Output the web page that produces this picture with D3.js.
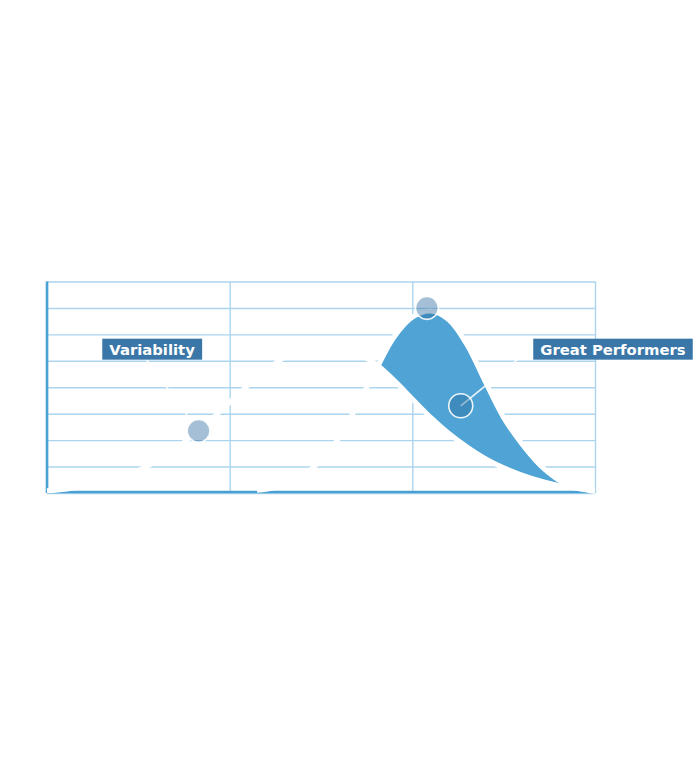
<!DOCTYPE html>
<html><head><meta charset="utf-8">
<script src="https://cdn.jsdelivr.net/npm/d3@7"></script>
<style>body{margin:0;background:#fff}</style>
</head><body>
<svg id="chart" width="700" height="765"></svg>
<script>
// ---- data ----
const xTicks = [0, 100, 200, 300];
const yTicks = [0, 10, 20, 30, 40, 50, 60, 70, 80];

// wide distribution ("Variability")
const wideX = [0,10,20,30,40,50,60,70,80,90,100,110,120,130,140,150,160,170,180,190,200,210,220,230,240,250,260,270,280,290,300];
const wideY = [0.85,1.45,2.4,3.8,5.8,8.5,12.1,16.6,21.9,27.9,34.3,40.7,46.5,51.3,54.6,56.1,55.3,52.6,48.8,42.6,35.6,28.6,22.5,17.4,13,9.5,6.8,4.6,2.9,1.8,1.2];

// narrow distribution ("Great Performers")
const narrowX = [115,120,130,140,150,160,170,180,190,200,210,220,230,240,250,260,270,280,290,300];
const narrowY = [1.0,1.4,3.2,6.5,12.5,21,33.5,46.5,59,66.5,68.8,65.5,56,42,28.5,18.5,10.5,5.0,1.9,0.6];

// markers
const circleX = [83, 208, 226.5];
const circleY = [23.5, 70, 33];

// labels
const labelText = ["Variability", "Great Performers"];
const labelX = [57.5, 309.8];
const labelY = [54.4, 54.4];

// connectors: [x1, y1, x2, y2] in data units
const connVariability = [54.2, 50.7, 83, 23.5];
const connGreat = [226.5, 33, 264.1, 54.1];

// ---- drawing ----
const svg = d3.select("#chart");
const x = d3.scaleLinear().domain([0, 300]).range([47, 595]);
const y = d3.scaleLinear().domain([0, 80]).range([493, 281.5]);

const gridColor = "#abd4ef";
const axisBlue = "#4aa0d3";
const fillBlue = "#4fa4d5";
const labelBlue = "#3a77a8";

// grid via axes
const gy = svg.append("g").attr("transform", `translate(${x(0)},0)`)
  .call(d3.axisLeft(y).tickValues(yTicks).tickSize(-(x(300) - x(0))).tickFormat(""));
gy.select(".domain").remove();
gy.selectAll(".tick line").attr("stroke", gridColor).attr("stroke-width", 1.4);

const gx = svg.append("g").attr("transform", `translate(0,${y(0)})`)
  .call(d3.axisBottom(x).tickValues(xTicks).tickSize(-(y(0) - y(80))).tickFormat(""));
gx.select(".domain").remove();
gx.selectAll(".tick line").attr("stroke", gridColor).attr("stroke-width", 1.4);

// main axes
svg.append("line").attr("x1", x(0)).attr("x2", x(0)).attr("y1", y(80)).attr("y2", y(0))
  .attr("stroke", axisBlue).attr("stroke-width", 2.6);
svg.append("line").attr("x1", x(0)).attr("x2", x(300)).attr("y1", y(0) - 1).attr("y2", y(0) - 1)
  .attr("stroke", axisBlue).attr("stroke-width", 2.4);

const wide = wideX.map((v, i) => [v, wideY[i]]);
const narrow = narrowX.map((v, i) => [v, narrowY[i]]);
const curve = d3.curveCatmullRom.alpha(0.5);

// clip: region above the wide curve
const defs = svg.append("defs");
defs.append("clipPath").attr("id", "aboveWide").append("path")
  .attr("d", d3.area().x(d => x(d[0])).y0(y(80) - 50).y1(d => y(d[1])).curve(curve)(wide));

// blue band: under narrow, above wide
svg.append("path")
  .attr("d", d3.area().x(d => x(d[0])).y0(y(0)).y1(d => y(d[1])).curve(curve)(narrow))
  .attr("fill", fillBlue).attr("clip-path", "url(#aboveWide)");

// white curves
const line = d3.line().x(d => x(d[0])).y(d => y(d[1])).curve(curve);
[wide, narrow].forEach(s => {
  svg.append("path").attr("d", line(s)).attr("fill", "none")
    .attr("stroke", "#fff").attr("stroke-width", 5).attr("stroke-linecap", "butt");
});

// connectors
[connVariability, connGreat].forEach(c => {
  svg.append("line").attr("x1", x(c[0])).attr("y1", y(c[1])).attr("x2", x(c[2])).attr("y2", y(c[3]))
    .attr("stroke", "#fff").attr("stroke-width", 1.6).attr("stroke-opacity", 0.9);
});

// circles
svg.selectAll("circle.m").data(circleX.map((v, i) => [v, circleY[i]])).join("circle")
  .attr("class", "m")
  .attr("cx", d => x(d[0])).attr("cy", d => y(d[1]))
  .attr("r", (d, i) => i === 2 ? 12 : 11.4)
  .attr("fill", "rgb(41,105,157)").attr("fill-opacity", 0.42)
  .attr("stroke", "#fff").attr("stroke-width", 1.6).attr("stroke-opacity", 0.9);

// labels
labelText.forEach((t, i) => {
  const g = svg.append("g");
  const txt = g.append("text").text(t)
    .attr("x", x(labelX[i])).attr("y", y(labelY[i]))
    .attr("text-anchor", "middle").attr("dominant-baseline", "central")
    .attr("font-family", "DejaVu Sans, sans-serif").attr("font-weight", 700)
    .attr("font-size", 14.8).attr("fill", "#fff");
  const bb = txt.node().getBBox();
  g.insert("rect", "text")
    .attr("x", bb.x - 7).attr("y", y(labelY[i]) - 10.5)
    .attr("width", bb.width + 14).attr("height", 21)
    .attr("fill", labelBlue);
});
</script>
</body></html>
